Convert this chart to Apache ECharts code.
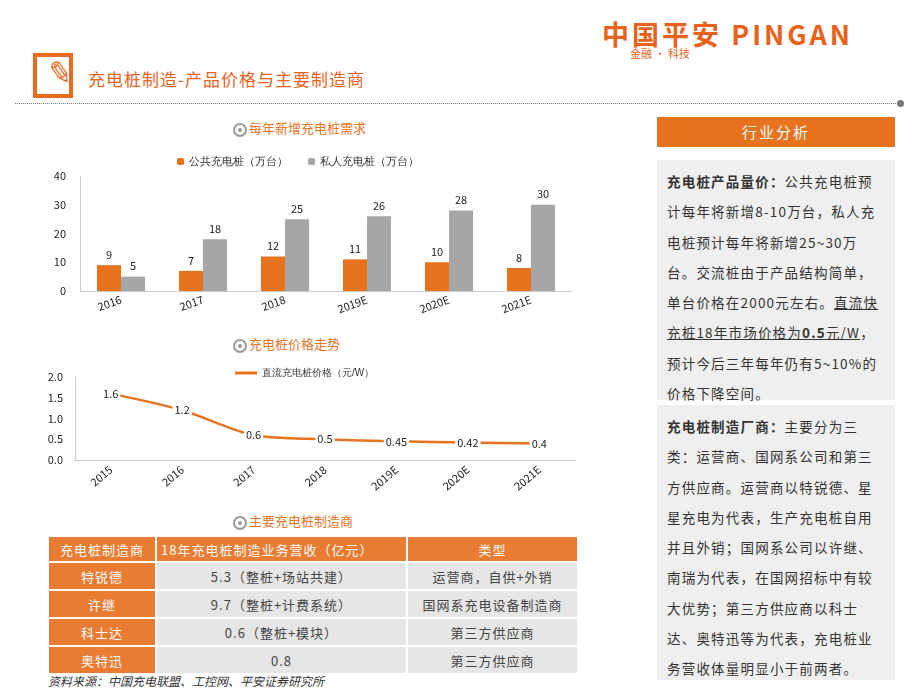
<!DOCTYPE html>
<html><head><meta charset="utf-8">
<script src="https://cdn.jsdelivr.net/npm/echarts@6/dist/echarts.min.js"></script>
<style>
body{margin:0;width:920px;height:690px;background:#fff;font-family:"Noto Sans CJK SC",sans-serif;position:relative;overflow:hidden}
.a{position:absolute}
.ttl{font-size:13px;color:#E8731F;white-space:nowrap}
.ico{display:inline-block;width:14px;height:14px;border:2px solid #999;border-radius:50%;vertical-align:-4px;margin-right:2px;box-sizing:border-box;position:relative}
.ico:after{content:"";position:absolute;left:3px;top:3px;width:4px;height:4px;background:#999;border-radius:50%}
table{border-collapse:collapse;font-size:13px;color:#444}
td{border:2px solid #fff;text-align:center;height:24px;padding:0;background:#E6E6E6;letter-spacing:1px}
td.o{background:#EA7B32;color:#fff}
.box{background:#EFEFEF;font-size:13.5px;line-height:30.3px;color:#333;padding:6px 0 0 10px;box-sizing:border-box;white-space:nowrap;letter-spacing:1.2px}
</style></head><body>
<div class="a" style="left:602px;top:14px;font-size:27px;font-weight:bold;color:#E8621C;letter-spacing:3px">中国平安 PINGAN</div>
<div class="a" style="left:630px;top:45px;font-size:11px;color:#E8621C">金融 · 科技</div>
<div class="a" style="left:33px;top:53px;width:40px;height:45px;border:4px solid #EA6A1F;box-sizing:border-box;background:#fff"></div>
<div class="a" style="left:48px;top:48px;font-size:30px;color:#EA6A1F;transform:rotate(10deg)">✎</div>
<div class="a" style="left:88px;top:66px;font-size:17px;color:#E8621C;letter-spacing:1px">充电桩制造-产品价格与主要制造商</div>
<div class="a" style="left:15px;top:103px;width:885px;border-top:1px dotted #777"></div>
<div class="a" style="left:897px;top:100px;width:7px;height:7px;border-radius:50%;background:#777"></div>

<div class="a ttl" style="left:233px;top:118px"><span class="ico"></span>每年新增充电桩需求</div>
<div class="a ttl" style="left:233px;top:334px"><span class="ico"></span>充电桩价格走势</div>
<div class="a ttl" style="left:233px;top:511px"><span class="ico"></span>主要充电桩制造商</div>

<div id="c1" class="a" style="left:0;top:150px;width:650px;height:180px"></div>
<div id="c2" class="a" style="left:0;top:362px;width:650px;height:140px"></div>

<table class="a" style="left:47px;top:535px;width:532px">
<tr style="height:24px"><td class="o" style="width:106px">充电桩制造商</td><td class="o" style="width:245px;text-align:left;padding-left:4px">18年充电桩制造业务营收（亿元）</td><td class="o">类型</td></tr>
<tr style="height:28px"><td class="o">特锐德</td><td>5.3（整桩+场站共建）</td><td>运营商，自供+外销</td></tr>
<tr style="height:28px"><td class="o">许继</td><td>9.7（整桩+计费系统）</td><td>国网系充电设备制造商</td></tr>
<tr style="height:28px"><td class="o">科士达</td><td>0.6（整桩+模块）</td><td>第三方供应商</td></tr>
<tr style="height:28px"><td class="o">奥特迅</td><td>0.8</td><td>第三方供应商</td></tr>
</table>
<div class="a" style="left:48px;top:672px;font-size:12px;font-style:italic;color:#333">资料来源：中国充电联盟、工控网、平安证券研究所</div>

<div class="a" style="left:657px;top:117px;width:238px;height:30px;background:#E8731F;color:#fff;font-size:15px;text-align:center;line-height:30px;letter-spacing:2px">行业分析</div>
<div class="a box" style="left:657px;top:160px;width:238px;height:240px">
<b>充电桩产品量价：</b>公共充电桩预<br>计每年将新增8-10万台，私人充<br>电桩预计每年将新增25~30万<br>台。交流桩由于产品结构简单，<br>单台价格在2000元左右。<u>直流快</u><br><u>充桩18年市场价格为<b>0.5</b>元/W</u>，<br>预计今后三年每年仍有5~10%的<br>价格下降空间。</div>
<div class="a box" style="left:657px;top:405px;width:238px;height:275px">
<b>充电桩制造厂商：</b>主要分为三<br>类：运营商、国网系公司和第三<br>方供应商。运营商以特锐德、星<br>星充电为代表，生产充电桩自用<br>并且外销；国网系公司以许继、<br>南瑞为代表，在国网招标中有较<br>大优势；第三方供应商以科士<br>达、奥特迅等为代表，充电桩业<br>务营收体量明显小于前两者。</div>

<script>
const years = ["2016", "2017", "2018", "2019E", "2020E", "2021E"];
const publicPiles = [9, 7, 12, 11, 10, 8];
const privatePiles = [5, 18, 25, 26, 28, 30];
const priceYears = ["2015", "2016", "2017", "2018", "2019E", "2020E", "2021E"];
const prices = [1.6, 1.2, 0.6, 0.5, 0.45, 0.42, 0.4];

const ORANGE = "#E8731F";
const txt = { fontSize: 11, color: "#222", fontFamily: "Noto Sans CJK SC" };

const c1 = echarts.init(document.getElementById("c1"));
c1.setOption({
  animation: false,
  legend: { top: 1, left: 172, itemWidth: 7, itemHeight: 7, itemGap: 20, textStyle: { fontSize: 11, color: "#333" },
    data: ["公共充电桩（万台）", "私人充电桩（万台）"] },
  grid: { left: 80, right: 78, top: 26, height: 115 },
  xAxis: { type: "category", data: years, axisLine: { lineStyle: { color: "#ccc" } }, axisTick: { show: false },
    axisLabel: { ...txt, rotate: 20, margin: 8 } },
  yAxis: { type: "value", min: 0, max: 40, interval: 10, splitLine: { show: false },
    axisLine: { show: true, lineStyle: { color: "#ccc" } }, axisLabel: { ...txt, margin: 14 } },
  series: [
    { name: "公共充电桩（万台）", type: "bar", data: publicPiles, barWidth: 24, barGap: "0%",
      itemStyle: { color: ORANGE }, label: { show: true, position: "top", ...txt } },
    { name: "私人充电桩（万台）", type: "bar", data: privatePiles, barWidth: 24,
      itemStyle: { color: "#A6A6A6" }, label: { show: true, position: "top", ...txt } }
  ]
});

const c2 = echarts.init(document.getElementById("c2"));
c2.setOption({
  animation: false,
  legend: { top: 1, left: 230, itemWidth: 22, textStyle: { fontSize: 10, color: "#333" },
    data: [{ name: "直流充电桩价格（元/W）", icon: "rect", itemStyle: { color: ORANGE } }], itemHeight: 3 },
  grid: { left: 75, right: 75, top: 15, height: 83 },
  xAxis: { type: "category", data: priceYears, boundaryGap: true, axisLine: { lineStyle: { color: "#ccc" } }, axisTick: { show: false },
    axisLabel: { ...txt, rotate: 40, margin: 8 } },
  yAxis: { type: "value", min: 0, max: 2, interval: 0.5, splitLine: { show: false },
    axisLine: { show: true, lineStyle: { color: "#ccc" } },
    axisLabel: { ...txt, margin: 12, formatter: v => v.toFixed(1) } },
  series: [{ name: "直流充电桩价格（元/W）", type: "line", data: prices, smooth: 0.3, showSymbol: true, symbolSize: 0,
    lineStyle: { color: ORANGE, width: 2.5 }, itemStyle: { color: ORANGE },
    label: { show: true, position: "inside", ...txt, backgroundColor: "#fff", padding: [1, 2] } }]
});
</script>
</body></html>
